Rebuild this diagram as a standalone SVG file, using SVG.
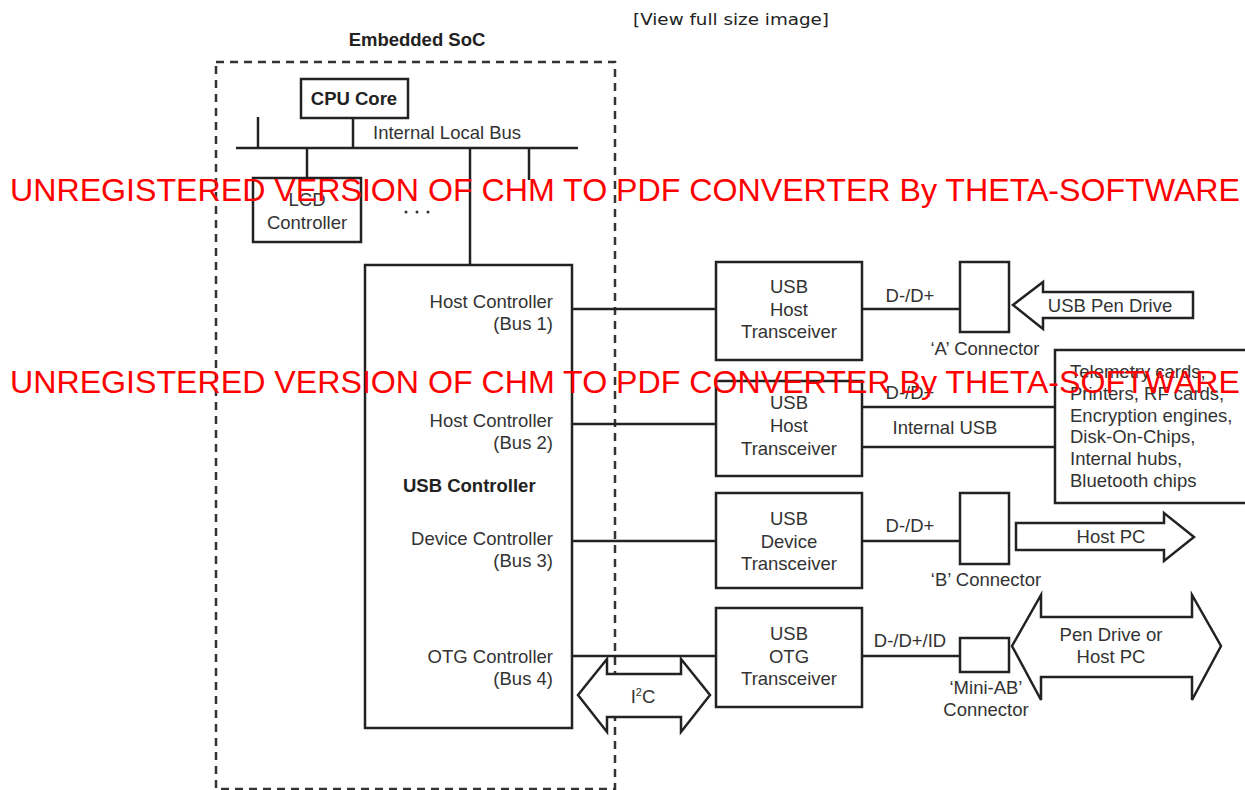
<svg xmlns="http://www.w3.org/2000/svg" width="1245" height="790" viewBox="0 0 1245 790">
<style>
.ln{stroke:#222;stroke-width:2.5;fill:none}
.bx{stroke:#222;stroke-width:2.5;fill:#fff}
.ar{stroke:#222;stroke-width:2.5;fill:#fff;stroke-linejoin:miter}
.dash{stroke:#333;stroke-width:2.5;fill:none;stroke-dasharray:8 6}
.t{font-family:"Liberation Sans",Arial,sans-serif;font-size:18.5px;fill:#333}
.b{font-family:"Liberation Sans",Arial,sans-serif;font-size:18.5px;font-weight:bold;fill:#222}
.c{text-anchor:middle}
.r{text-anchor:end}
.wm{font-family:"Liberation Sans",Arial,sans-serif;font-size:32px;fill:#ff0000}
</style>
<rect width="1245" height="790" fill="#fff"/>
<text x="633" y="25" font-family="DejaVu Sans,Verdana,sans-serif" font-size="16" fill="#222" textLength="196" lengthAdjust="spacingAndGlyphs">[View full size image]</text>

<g id="soc">
<rect class="dash" x="216" y="62" width="399" height="727"/>
<text class="b c" x="417" y="46">Embedded SoC</text>
</g>

<g id="connectors">
<line class="ln" x1="236" y1="148" x2="578" y2="148"/>
<line class="ln" x1="258" y1="117" x2="258" y2="148"/>
<line class="ln" x1="353" y1="118" x2="353" y2="148"/>
<line class="ln" x1="307" y1="148" x2="307" y2="178"/>
<line class="ln" x1="470" y1="148" x2="470" y2="265"/>
<line class="ln" x1="529" y1="148" x2="529" y2="180"/>
<line class="ln" x1="572" y1="309" x2="716" y2="309"/>
<line class="ln" x1="572" y1="424" x2="716" y2="424"/>
<line class="ln" x1="572" y1="541" x2="716" y2="541"/>
<line class="ln" x1="572" y1="656" x2="716" y2="656"/>
<line class="ln" x1="862" y1="309" x2="960" y2="309"/>
<line class="ln" x1="862" y1="407" x2="1055" y2="407"/>
<line class="ln" x1="862" y1="447" x2="1055" y2="447"/>
<line class="ln" x1="862" y1="541" x2="960" y2="541"/>
<line class="ln" x1="862" y1="656" x2="960" y2="656"/>
<text class="t" x="373" y="139">Internal Local Bus</text>
<text class="t c" x="910" y="302">D-/D+</text>
<text class="t c" x="910" y="399">D-/D+</text>
<text class="t c" x="945" y="434">Internal USB</text>
<text class="t c" x="910" y="532">D-/D+</text>
<text class="t c" x="910" y="647">D-/D+/ID</text>
</g>

<g id="cpu">
<rect class="bx" x="301" y="79" width="107" height="39"/>
<text class="b c" x="354" y="105">CPU Core</text>
</g>

<g id="lcd">
<rect class="bx" x="253" y="178" width="108" height="64"/>
<text class="t c" x="307" y="206">LCD</text>
<text class="t c" x="307" y="229">Controller</text>
</g>

<g id="dots" fill="#333">
<circle cx="406" cy="212" r="1.5"/>
<circle cx="417" cy="212" r="1.5"/>
<circle cx="428" cy="212" r="1.5"/>
</g>

<g id="usbctrl">
<rect class="bx" x="365" y="265" width="207" height="463"/>
<text class="t r" x="553" y="308">Host Controller</text>
<text class="t r" x="553" y="330">(Bus 1)</text>
<text class="t r" x="553" y="427">Host Controller</text>
<text class="t r" x="553" y="449">(Bus 2)</text>
<text class="b" x="403" y="492">USB Controller</text>
<text class="t r" x="553" y="545">Device Controller</text>
<text class="t r" x="553" y="567">(Bus 3)</text>
<text class="t r" x="553" y="663">OTG Controller</text>
<text class="t r" x="553" y="685">(Bus 4)</text>
</g>

<g id="i2c">
<polygon class="ar" points="578,695 607,659 607,674 681,674 681,659 710,695 681,732 681,717 607,717 607,732"/>
<text class="t c" x="643" y="703">I<tspan font-size="11" dy="-7">2</tspan><tspan dy="7">C</tspan></text>
</g>

<g id="tx1">
<rect class="bx" x="716" y="262" width="146" height="98"/>
<text class="t c" x="789" y="293">USB</text>
<text class="t c" x="789" y="316">Host</text>
<text class="t c" x="789" y="338">Transceiver</text>
</g>
<g id="tx2">
<rect class="bx" x="716" y="381" width="146" height="95"/>
<text class="t c" x="789" y="409">USB</text>
<text class="t c" x="789" y="432">Host</text>
<text class="t c" x="789" y="455">Transceiver</text>
</g>
<g id="tx3">
<rect class="bx" x="716" y="493" width="146" height="95"/>
<text class="t c" x="789" y="525">USB</text>
<text class="t c" x="789" y="548">Device</text>
<text class="t c" x="789" y="570">Transceiver</text>
</g>
<g id="tx4">
<rect class="bx" x="716" y="608" width="146" height="99"/>
<text class="t c" x="789" y="640">USB</text>
<text class="t c" x="789" y="663">OTG</text>
<text class="t c" x="789" y="685">Transceiver</text>
</g>

<g id="conA">
<rect class="bx" x="960" y="262" width="49" height="70"/>
<text class="t c" x="985" y="355">‘A’ Connector</text>
</g>
<g id="conB">
<rect class="bx" x="960" y="493" width="49" height="71"/>
<text class="t c" x="986" y="586">‘B’ Connector</text>
</g>
<g id="conMini">
<rect class="bx" x="960" y="638" width="49" height="34"/>
<text class="t c" x="986" y="694">‘Mini-AB’</text>
<text class="t c" x="986" y="716">Connector</text>
</g>

<g id="pendrive">
<polygon class="ar" points="1013,305 1043,282 1043,292 1193,292 1193,318 1043,318 1043,329"/>
<text class="t c" x="1110" y="312">USB Pen Drive</text>
</g>
<g id="hostpc">
<polygon class="ar" points="1016,523 1164,523 1164,513 1194,537 1164,561 1164,550 1016,550"/>
<text class="t c" x="1111" y="543">Host PC</text>
</g>
<g id="pendrive-or-host">
<polygon class="ar" points="1012,646 1041,595 1041,617 1192,617 1192,595 1221,646 1192,700 1192,677 1041,677 1041,700"/>
<text class="t c" x="1111" y="641">Pen Drive or</text>
<text class="t c" x="1111" y="663">Host PC</text>
</g>

<g id="devices">
<rect class="bx" x="1055" y="350" width="200" height="153"/>
<text class="t" x="1070" y="378">Telemetry cards,</text>
<text class="t" x="1070" y="400">Printers, RF cards,</text>
<text class="t" x="1070" y="422">Encryption engines,</text>
<text class="t" x="1070" y="443">Disk-On-Chips,</text>
<text class="t" x="1070" y="465">Internal hubs,</text>
<text class="t" x="1070" y="487">Bluetooth chips</text>
</g>

<g id="watermark">
<text class="wm" x="10" y="201" textLength="1230" lengthAdjust="spacingAndGlyphs">UNREGISTERED VERSION OF CHM TO PDF CONVERTER By THETA-SOFTWARE</text>
<text class="wm" x="10" y="393" textLength="1230" lengthAdjust="spacingAndGlyphs">UNREGISTERED VERSION OF CHM TO PDF CONVERTER By THETA-SOFTWARE</text>
</g>
</svg>
